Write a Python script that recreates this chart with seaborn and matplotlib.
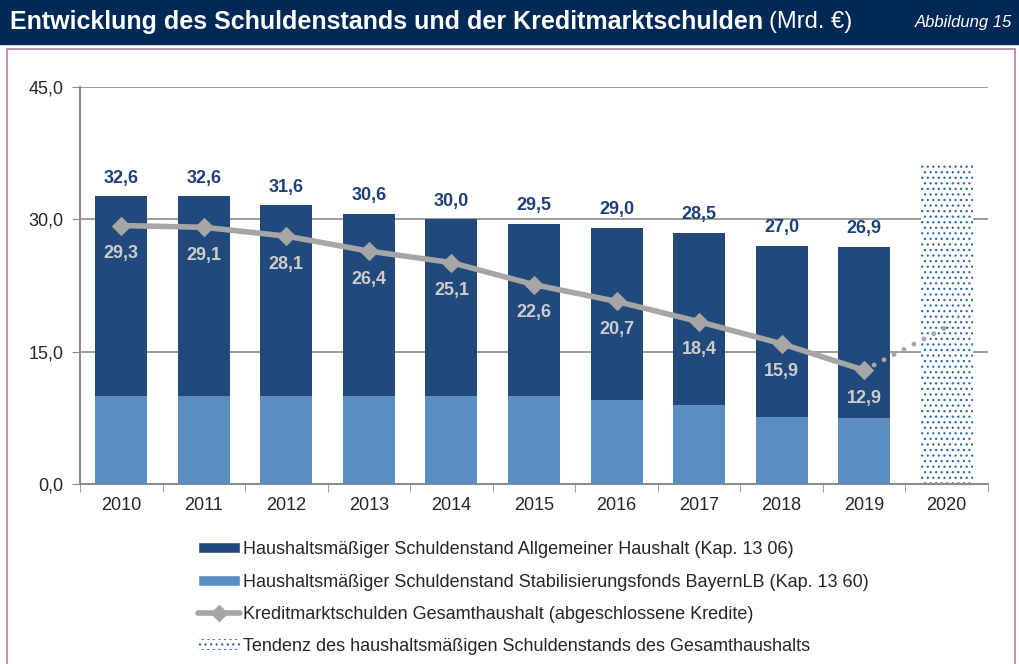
import pandas as pd
import numpy as np
import seaborn as sns
import matplotlib.pyplot as plt
from matplotlib.patches import Patch, Rectangle
from matplotlib.lines import Line2D

sns.set_style('white')
plt.rcParams['font.family'] = ['Liberation Sans', 'DejaVu Sans']
plt.rcParams['hatch.linewidth'] = 0.9

years = ['2010', '2011', '2012', '2013', '2014', '2015', '2016', '2017', '2018', '2019', '2020']
total_debt = [32.6, 32.6, 31.6, 30.6, 30.0, 29.5, 29.0, 28.5, 27.0, 26.9]
stab_fund = [10.0, 10.0, 10.0, 10.0, 10.0, 10.0, 9.5, 9.0, 7.6, 7.5]
credit_market = [29.3, 29.1, 28.1, 26.4, 25.1, 22.6, 20.7, 18.4, 15.9, 12.9]
trend_total = [36.2]
trend_lower = [7.7]
trend_line = [12.9, 17.8]
y_ticks = [0, 15, 30, 45]

DARK = '#21497c'
LIGHT = '#5a8ec0'
GREY = '#a6a6a6'
NAVY = '#002a55'
HATCH = '#2f6aa3'

df = pd.DataFrame({'year': years[:10], 'total': total_debt, 'stab': stab_fund,
                   'kredit': credit_market})
df_trend = pd.DataFrame({'year': years[10:], 'total': trend_total, 'lower': trend_lower})

fig = plt.figure(figsize=(10.2, 6.64), dpi=100)
ax = fig.add_axes([0.0784, 0.271, 0.8902, 0.598])

# gridlines behind
for t in y_ticks[1:]:
    ax.axhline(t, color='#8c8c8c', lw=1.2, zorder=0)

sns.barplot(data=df, x='year', y='total', order=years, color=DARK, width=0.63,
            saturation=1, linewidth=0, ax=ax, zorder=2)
sns.barplot(data=df, x='year', y='stab', order=years, color=LIGHT, width=0.63,
            saturation=1, linewidth=0, ax=ax, zorder=3)
n_before = len(ax.patches)
sns.barplot(data=df_trend, x='year', y='total', order=years, color='white', width=0.63,
            saturation=1, ax=ax, zorder=2)
sns.barplot(data=df_trend, x='year', y='lower', order=years, color='white', width=0.63,
            saturation=1, ax=ax, zorder=2)
for p in ax.patches[n_before:]:
    p.set_hatch('...')
    p.set_edgecolor(HATCH)
    p.set_linewidth(0)

idx = np.arange(len(credit_market))
sns.lineplot(x=idx, y=credit_market, color=GREY, lw=4, marker='D', markersize=9,
             markeredgecolor=GREY, ax=ax, zorder=5)
sns.lineplot(x=[9, 10], y=trend_line, color=GREY, lw=3.5, ax=ax, zorder=4,
             linestyle=(0, (0.01, 2.3)), dash_capstyle='round')

for i, v in enumerate(total_debt):
    ax.text(i, v + 1.1, f'{v:.1f}'.replace('.', ','), ha='center', va='bottom',
            color='#1f3f78', fontsize=13, fontweight='bold', zorder=6)
for i, v in enumerate(credit_market):
    ax.text(i, v - 3.2, f'{v:.1f}'.replace('.', ','), ha='center', va='center',
            color='#cdcdcd', fontsize=13, fontweight='bold', zorder=6)

ax.set_xlim(-0.5, 10.5)
ax.set_ylim(0, 45)
ax.set_yticks(y_ticks)
ax.set_yticklabels([f'{t:.1f}'.replace('.', ',') for t in y_ticks], fontsize=13)
ax.set_xticks(range(len(years)))
ax.set_xticklabels(years, fontsize=13)
ax.set_xticks(np.arange(-0.5, 11, 1), minor=True)
ax.tick_params(axis='x', which='major', length=0, pad=9)
ax.tick_params(axis='x', which='minor', length=6, color='#8c8c8c', direction='out', bottom=True)
ax.tick_params(axis='y', length=6, color='#8c8c8c', direction='out', left=True, pad=6)
ax.set_xlabel('')
ax.set_ylabel('')
for s in ['top', 'right']:
    ax.spines[s].set_visible(False)
for s in ['left', 'bottom']:
    ax.spines[s].set_color('#8c8c8c')
    ax.spines[s].set_linewidth(1.5)

# title bar and frame
fig.patches.append(Rectangle((0, 1 - 44 / 664), 1, 44 / 664, transform=fig.transFigure,
                             color=NAVY, zorder=0))
fig.patches.append(Rectangle((7 / 1020, -0.01), 1008 / 1020, 1 - 49 / 664 + 0.01,
                             transform=fig.transFigure, fill=False,
                             edgecolor='#b48aa8', lw=1.3, zorder=0))
title = fig.text(10 / 1020, 1 - 22 / 664,
                 'Entwicklung des Schuldenstands und der Kreditmarktschulden',
                 color='white', fontsize=18, fontweight='bold', va='center', ha='left')
fig.canvas.draw()
bb = title.get_window_extent().transformed(fig.transFigure.inverted())
fig.text(bb.x1 + 6 / 1020, 1 - 22 / 664, '(Mrd. €)', color='white', fontsize=17,
         va='center', ha='left')
fig.text(1012 / 1020, 1 - 23 / 664, 'Abbildung 15', color='white', fontsize=12,
         style='italic', va='center', ha='right')

handles = [
    Patch(facecolor=DARK),
    Patch(facecolor=LIGHT),
    Line2D([0], [0], color=GREY, lw=4, marker='D', markersize=8),
    Patch(facecolor='white', hatch='...', edgecolor=HATCH, linewidth=0),
]
labels = [
    'Haushaltsmäßiger Schuldenstand Allgemeiner Haushalt (Kap. 13 06)',
    'Haushaltsmäßiger Schuldenstand Stabilisierungsfonds BayernLB (Kap. 13 60)',
    'Kreditmarktschulden Gesamthaushalt (abgeschlossene Kredite)',
    'Tendenz des haushaltsmäßigen Schuldenstands des Gesamthaushalts',
]
fig.legend(handles, labels, loc='upper left', bbox_to_anchor=(191 / 1020, 1 - 534 / 664),
           frameon=False, fontsize=13, handlelength=2.3, handleheight=0.55,
           handletextpad=0.2, labelspacing=0.85, borderaxespad=0)

fig.savefig('out.png', dpi=100)
